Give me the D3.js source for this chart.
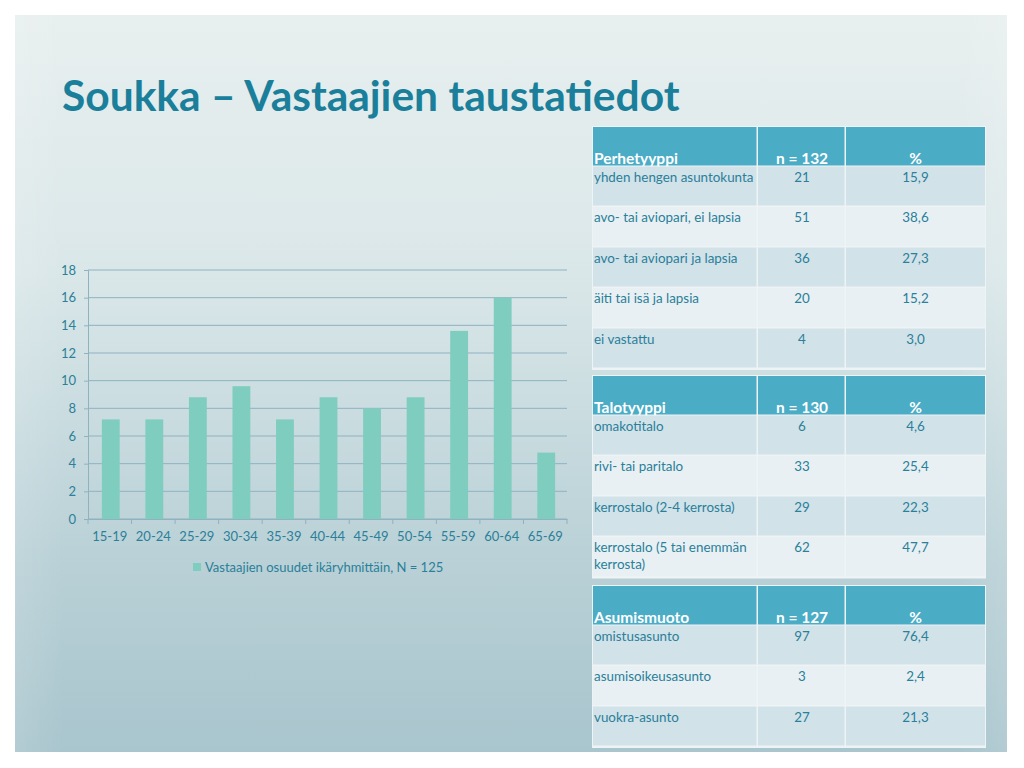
<!DOCTYPE html>
<html>
<head>
<meta charset="utf-8">
<script src="https://cdn.jsdelivr.net/npm/d3@7"></script>
<style>
  body { margin: 0; background: #fff; }
  svg { display: block; }
  text { font-family: Lato, "Open Sans", sans-serif; }
</style>
</head>
<body>
<div id="main"></div>
<script>
// chart data
var ageGroups = ["15-19", "20-24", "25-29", "30-34", "35-39", "40-44", "45-49", "50-54", "55-59", "60-64", "65-69"];
var ageShares = [7.2, 7.2, 8.8, 9.6, 7.2, 8.8, 8.0, 8.8, 13.6, 16.0, 4.8];
var yTicks = [0, 2, 4, 6, 8, 10, 12, 14, 16, 18];
var legendLabel = "Vastaajien osuudet ikäryhmittäin, N = 125";

// table data
var perheHeader = ["Perhetyyppi", "n = 132", "%"];
var perheRows = [
  ["yhden hengen asuntokunta", "21", "15,9"],
  ["avo- tai aviopari, ei lapsia", "51", "38,6"],
  ["avo- tai aviopari ja lapsia", "36", "27,3"],
  ["äiti tai isä ja lapsia", "20", "15,2"],
  ["ei vastattu", "4", "3,0"]
];
var taloHeader = ["Talotyyppi", "n = 130", "%"];
var taloRows = [
  ["omakotitalo", "6", "4,6"],
  ["rivi- tai paritalo", "33", "25,4"],
  ["kerrostalo (2-4 kerrosta)", "29", "22,3"],
  ["kerrostalo (5 tai enemmän|kerrosta)", "62", "47,7"]
];
var asumisHeader = ["Asumismuoto", "n = 127", "%"];
var asumisRows = [
  ["omistusasunto", "97", "76,4"],
  ["asumisoikeusasunto", "3", "2,4"],
  ["vuokra-asunto", "27", "21,3"]
];

var width = 1024;
var height = 768;

var svg = d3.select("#main").append("svg")
  .attr("width", width)
  .attr("height", height);

var defs = svg.append("defs");
var bg = defs.append("linearGradient").attr("id", "bg")
  .attr("x1", 0).attr("y1", 0).attr("x2", 0).attr("y2", 1);
bg.append("stop").attr("offset", "0%").attr("stop-color", "#e8efef");
bg.append("stop").attr("offset", "35%").attr("stop-color", "#dae7e9");
bg.append("stop").attr("offset", "75%").attr("stop-color", "#b8d0d6");
bg.append("stop").attr("offset", "100%").attr("stop-color", "#a9c5cd");

var side = defs.append("linearGradient").attr("id", "side")
  .attr("x1", 0).attr("y1", 0).attr("x2", 1).attr("y2", 0);
side.append("stop").attr("offset", "0%").attr("stop-color", "#ffffff").attr("stop-opacity", 0.12);
side.append("stop").attr("offset", "5%").attr("stop-color", "#ffffff").attr("stop-opacity", 0);
side.append("stop").attr("offset", "95%").attr("stop-color", "#ffffff").attr("stop-opacity", 0);
side.append("stop").attr("offset", "100%").attr("stop-color", "#ffffff").attr("stop-opacity", 0.12);

svg.append("rect").attr("x", 15).attr("y", 15).attr("width", 992).attr("height", 737).attr("fill", "url(#bg)");
svg.append("rect").attr("x", 15).attr("y", 15).attr("width", 992).attr("height", 737).attr("fill", "url(#side)");

// title
svg.append("text")
  .attr("x", 62).attr("y", 111)
  .attr("fill", "#1a7f9a")
  .style("font-size", "42.5px")
  .style("font-weight", "bold")
  .text("Soukka – Vastaajien taustatiedot");

// bar chart
var textColor = "#2a7f99";
var gridColor = "#8fb2c0";

var x = d3.scaleBand()
  .domain(ageGroups)
  .range([88, 567])
  .paddingInner(0.59)
  .paddingOuter(0.295);

var y = d3.scaleLinear()
  .domain([0, 18])
  .range([519, 270]);

var chart = svg.append("g");

chart.selectAll(".grid")
  .data(yTicks)
  .enter().append("line")
  .attr("class", "grid")
  .attr("x1", 88).attr("x2", 567)
  .attr("y1", function(d) { return y(d); })
  .attr("y2", function(d) { return y(d); })
  .attr("stroke", gridColor)
  .attr("stroke-width", 1);

chart.selectAll(".bar")
  .data(ageShares)
  .enter().append("rect")
  .attr("class", "bar")
  .attr("x", function(d, i) { return x(ageGroups[i]) + 1; })
  .attr("width", x.bandwidth())
  .attr("y", function(d) { return y(d); })
  .attr("height", function(d) { return y(0) - y(d); })
  .attr("fill", "#7fcdbf");

var yAxis = chart.append("g")
  .attr("transform", "translate(88,0)")
  .call(d3.axisLeft(y).tickValues(yTicks).tickSize(4).tickPadding(8));

var xAxis = chart.append("g")
  .attr("transform", "translate(0," + y(0) + ")")
  .call(d3.axisBottom(x).tickSize(0).tickPadding(13));

// category separator ticks
chart.selectAll(".sep")
  .data(d3.range(ageGroups.length + 1))
  .enter().append("line")
  .attr("class", "sep")
  .attr("x1", function(i) { return 88 + i * (479 / ageGroups.length); })
  .attr("x2", function(i) { return 88 + i * (479 / ageGroups.length); })
  .attr("y1", y(0)).attr("y2", y(0) + 5)
  .attr("stroke", gridColor);

[yAxis, xAxis].forEach(function(a) {
  a.select(".domain").attr("stroke", gridColor);
  a.selectAll(".tick line").attr("stroke", gridColor);
  a.selectAll(".tick text")
    .attr("fill", textColor)
    .style("font-size", "13px")
    .style("font-family", "Lato, 'Open Sans', sans-serif");
});

var legend = chart.append("g").attr("transform", "translate(193,563)");
legend.append("rect").attr("width", 8).attr("height", 8).attr("fill", "#7fcdbf");
legend.append("text")
  .attr("x", 12).attr("y", 9)
  .attr("fill", textColor)
  .style("font-size", "13px")
  .text(legendLabel);

// tables
var colX = [593, 758, 846, 985];

function drawTable(top, header, rows) {
  var headH = 39.5;
  var rowH = 40.5;
  var g = svg.append("g").attr("transform", "translate(0," + top + ")");
  var totalH = headH + rows.length * rowH;

  g.append("rect")
    .attr("x", colX[0] - 1).attr("y", -1)
    .attr("width", colX[3] - colX[0] + 2).attr("height", totalH + 2)
    .attr("fill", "#eef4f6");

  // header cells
  header.forEach(function(h, c) {
    g.append("rect")
      .attr("x", colX[c]).attr("y", 0)
      .attr("width", colX[c + 1] - colX[c] - (c < 2 ? 1.5 : 0))
      .attr("height", headH - 1)
      .attr("fill", "#4bacc6");
    g.append("text")
      .attr("x", c === 0 ? colX[0] + 1 : (colX[c] + colX[c + 1]) / 2)
      .attr("y", headH - 3)
      .attr("text-anchor", c === 0 ? "start" : "middle")
      .attr("fill", "#ffffff")
      .style("font-size", "15.5px")
      .style("font-weight", "bold")
      .text(h);
  });

  rows.forEach(function(row, r) {
    var ry = headH + r * rowH;
    row.forEach(function(v, c) {
      g.append("rect")
        .attr("x", colX[c]).attr("y", ry)
        .attr("width", colX[c + 1] - colX[c] - (c < 2 ? 1.5 : 0))
        .attr("height", rowH - 1.5)
        .attr("fill", r % 2 === 0 ? "#d1e2e9" : "#e8f0f3");
      var lines = v.split("|");
      var t = g.append("text")
        .attr("x", c === 0 ? colX[0] + 1 : (colX[c] + colX[c + 1]) / 2)
        .attr("y", ry + 15)
        .attr("text-anchor", c === 0 ? "start" : "middle")
        .attr("fill", textColor)
        .style("font-size", "13.4px");
      lines.forEach(function(l, i) {
        t.append("tspan")
          .attr("x", c === 0 ? colX[0] + 1 : (colX[c] + colX[c + 1]) / 2)
          .attr("dy", i === 0 ? 0 : 17)
          .text(l);
      });
    });
  });
}

drawTable(127, perheHeader, perheRows);
drawTable(376, taloHeader, taloRows);
drawTable(586, asumisHeader, asumisRows);
</script>
</body>
</html>
